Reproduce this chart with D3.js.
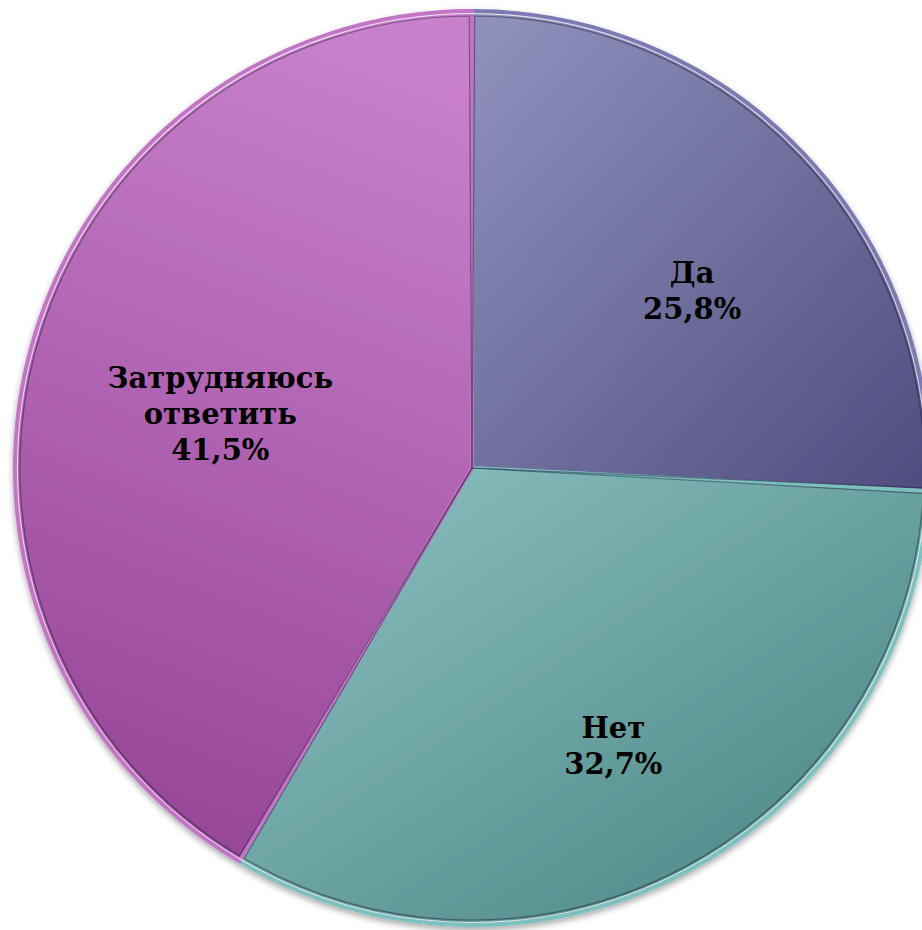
<!DOCTYPE html>
<html><head><meta charset="utf-8">
<script src="https://cdn.jsdelivr.net/npm/d3@7"></script>
<style>html,body{margin:0;padding:0;background:#fff;overflow:hidden}</style>
</head><body>
<svg id="chart" width="922" height="930"></svg>
<script>
const categories = ["Да", "Нет", "Затрудняюсь ответить"];
const labelLines = [["Да"], ["Нет"], ["Затрудняюсь", "ответить"]];
const values = [25.8, 32.7, 41.5];
const valueLabels = ["25,8%", "32,7%", "41,5%"];
const colorsLight = ["#9193bd", "#8fc3c4", "#c981cc"];
const colorsDark = ["#4f4c7e", "#468180", "#964597"];
const edgeColors = ["#7b79b3", "#7cc0bf", "#c274c4"];

const svg = d3.select("#chart");
const cx = 472, cy = 468, R = 457;
const labelDx = [10, 4, 28];

const defs = svg.append("defs");
const f = defs.append("filter").attr("id", "sh").attr("x", "-10%").attr("y", "-10%").attr("width", "120%").attr("height", "120%");
f.append("feDropShadow").attr("dx", 0).attr("dy", 3).attr("stdDeviation", 3).attr("flood-color", "#000").attr("flood-opacity", 0.35);

categories.forEach((c, i) => {
  const g = defs.append("linearGradient").attr("id", "g" + i)
    .attr("x1", i === 2 ? 0.6 : 0).attr("y1", 0).attr("x2", i === 2 ? 0.4 : 1).attr("y2", 1);
  g.append("stop").attr("offset", 0).attr("stop-color", colorsLight[i]);
  g.append("stop").attr("offset", 1).attr("stop-color", colorsDark[i]);
});

const pie = d3.pie().sort(null).value(d => d)(values);
const arc = d3.arc().innerRadius(0).outerRadius(R);
const arcInner = d3.arc().innerRadius(0).outerRadius(R - 5).padAngle(0.012).padRadius(R);
const labelArc = d3.arc().innerRadius(290).outerRadius(290);

const root = svg.append("g").attr("transform", `translate(${cx},${cy})`);

root.append("g").attr("filter", "url(#sh)")
  .selectAll("path").data(pie).join("path")
  .attr("d", arc)
  .attr("fill", (d, i) => `url(#g${i})`)
  .attr("stroke", (d, i) => edgeColors[i])
  .attr("stroke-width", 4)
  .attr("stroke-linejoin", "round");

// light highlight on outer rim
root.append("g").selectAll("path").data(pie).join("path")
  .attr("d", d3.arc().innerRadius(R - 2.5).outerRadius(R - 2.5))
  .attr("fill", "none")
  .attr("stroke", "#ffffff").attr("stroke-opacity", 0.75).attr("stroke-width", 1.2);

// dark inner bevel line
root.append("g").selectAll("path").data(pie).join("path")
  .attr("d", arcInner)
  .attr("fill", "none")
  .attr("stroke", "#1a1a33").attr("stroke-opacity", 0.45).attr("stroke-width", 1.2);

const lab = root.append("g").selectAll("text").data(pie).join("text")
  .attr("text-anchor", "middle")
  .attr("font-family", "'DejaVu Serif', 'Liberation Serif', serif")
  .attr("font-weight", "bold")
  .attr("font-size", 29)
  .attr("fill", "#000");

lab.each(function (d, i) {
  const lines = labelLines[i].concat([valueLabels[i]]);
  const [x, y] = labelArc.centroid(d);
  const lh = 36;
  const y0 = y + 33 - (lines.length - 1) * lh / 2;
  const t = d3.select(this);
  lines.forEach((s, k) => {
    t.append("tspan").attr("x", x + labelDx[i]).attr("y", y0 + k * lh).text(s);
  });
});
</script>
</body></html>
